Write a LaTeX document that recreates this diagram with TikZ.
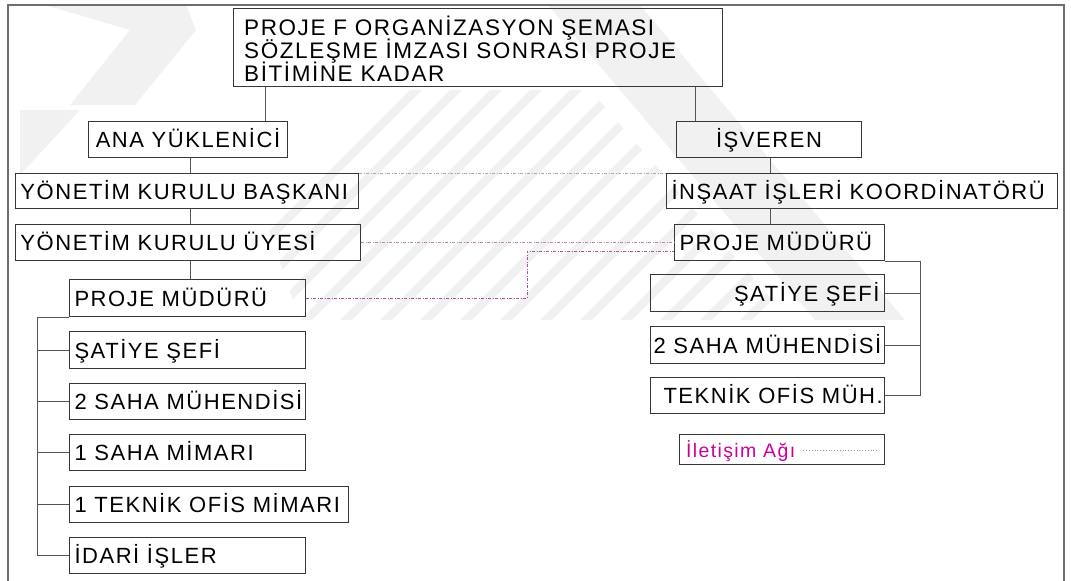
\documentclass[tikz,border=0pt]{standalone}
\usepackage{fontspec}
\setmainfont{Liberation Sans}[LetterSpace=7]
\definecolor{boxline}{RGB}{55,55,55}
\definecolor{linkline}{RGB}{85,85,85}
\definecolor{frameline}{RGB}{110,110,110}
\definecolor{netgray}{RGB}{170,165,185}
\definecolor{netmauve}{RGB}{180,140,175}
\definecolor{netpurple}{RGB}{170,80,160}
\definecolor{legendpink}{RGB}{204,0,153}
\definecolor{markgray}{RGB}{241,241,241}
% box contents: left, right or centred in a fixed width
\newcommand{\inleft}[3][5pt]{\hbox to #2{\hspace*{#1}#3\hss}}
\newcommand{\inright}[2]{\hbox to #1{\hss#2\hspace*{5pt}}}
\newcommand{\inmid}[2]{\hbox to #1{\hss#2\hss}}
\begin{document}
\begin{tikzpicture}[x=1pt,y=-1pt,
  box/.style={draw=boxline, line width=1pt, anchor=north west, inner sep=0pt,
    text height=16pt, text depth=0pt,
    font=\fontsize{22}{24}\selectfont},
  link/.style={draw=linkline, line width=0.9pt},
  net/.style={line width=0.9pt, dash pattern=on 3pt off 1.5pt on 1pt off 1.5pt},
  heading/.style={anchor=base west, inner sep=0pt, font=\fontsize{22.5}{24}\selectfont}]
\useasboundingbox (0,0) rectangle (1071,581);

% faint background mark: diagonal bands and hatching
\begin{scope}[markgray]
  \fill (45,5) -- (186,5) -- (196,30) -- (135,105) -- (70,105) -- (130,30) -- cycle;
  \fill (20,175) -- (20,110) -- (80,110) -- cycle;
  \fill (548,5) -- (640,5) -- (905,320) -- (815,320) -- cycle;
  \begin{scope}
    \clip (220,90) -- (590,90) -- (790,320) -- (300,320) -- cycle;
    \foreach \s in {0,...,14} {
      \fill ({170+40*\s},330) -- ({182+40*\s},330) -- ({422+40*\s},90) -- ({410+40*\s},90) -- cycle;
    }
  \end{scope}
\end{scope}

% outer frame (open at the bottom)
\draw[frameline, line width=1.2pt] (8,590) -- (8,5) -- (1064,5) -- (1064,590);

% title block
\node[box, minimum width=489pt, minimum height=78pt] (title) at (233,8) {};
\node[heading] (t1) at (244,35) {PROJE F ORGANİZASYON ŞEMASI};
\node[heading] (t2) at (244,58) {SÖZLEŞME İMZASI SONRASI PROJE};
\node[heading] (t3) at (244,81) {BİTİMİNE KADAR};

% contractor side
\node[box, minimum height=36pt] (ana) at (88,121) {\inmid{199pt}{ANA YÜKLENİCİ}};
\node[box, minimum height=35pt] (ykb) at (15,173) {\inleft{343pt}{YÖNETİM KURULU BAŞKANI}};
\node[box, minimum height=36pt] (yku) at (15,224) {\inleft{345pt}{YÖNETİM KURULU ÜYESİ}};
\node[box, minimum height=37pt] (pml) at (69,279) {\inleft{236pt}{PROJE MÜDÜRÜ}};
\node[box, minimum height=37pt] (l1) at (69,331) {\inleft{236pt}{ŞATİYE ŞEFİ}};
\node[box, minimum height=36pt] (l2) at (69,383) {\inleft{236pt}{2 SAHA MÜHENDİSİ}};
\node[box, minimum height=36pt] (l3) at (69,434) {\inleft{236pt}{1 SAHA MİMARI}};
\node[box, minimum height=36pt] (l4) at (69,486) {\inleft{279pt}{1 TEKNİK OFİS MİMARI}};
\node[box, minimum height=36pt] (l5) at (69,537) {\inleft{236pt}{İDARİ İŞLER}};

% employer side
\node[box, minimum height=36pt] (isv) at (676,121) {\inmid{185pt}{İŞVEREN}};
\node[box, minimum height=35pt] (ins) at (666,173) {\inleft{391pt}{İNŞAAT İŞLERİ KOORDİNATÖRÜ}};
\node[box, minimum height=36pt] (pmr) at (674,224) {\inleft{210pt}{PROJE MÜDÜRÜ}};
\node[box, minimum height=37pt] (r1) at (650,274) {\inright{234pt}{ŞATİYE ŞEFİ}};
\node[box, minimum height=37pt] (r2) at (650,326) {\inleft[3pt]{234pt}{2 SAHA MÜHENDİSİ}};
\node[box, minimum height=36pt] (r3) at (650,377) {\inleft[13pt]{234pt}{TEKNİK OFİS MÜH.}};

% legend
\node[box, minimum width=205pt, minimum height=30pt] (legend) at (679,434) {};
\node[anchor=base west, inner sep=0pt, text=legendpink, font=\fontsize{19.5}{22}\selectfont] (legtext) at (686,457) {İletişim Ağı};
\coordinate (legend end) at (878,450);
\draw[netmauve, line width=0.8pt, dotted] (legtext.east |- legend end) ++(8,0) -- (legend end);

% reporting lines
\coordinate (ca) at (265,0);
\coordinate (ce) at (695,0);
\coordinate (cl) at (190,0);
\coordinate (cr) at (770,0);
\draw[link] (title.south -| ca) -- (ana.north -| ca);
\draw[link] (title.south -| ce) -- (isv.north -| ce);
\draw[link] (ana.south -| cl) -- (ykb.north -| cl);
\draw[link] (ykb.south -| cl) -- (yku.north -| cl);
\draw[link] (yku.south -| cl) -- (pml.north -| cl);
\draw[link] (isv.south -| cr) -- (ins.north -| cr);
\draw[link] (ins.south -| cr) -- (pmr.north -| cr);

% left staff trunk
\coordinate (lt) at (37,0);
\draw[link] (pml.south west) -- (pml.south west -| lt) -- (l5.west -| lt) -- (l5.west);
\foreach \n in {l1,l2,l3,l4} \draw[link] (\n.west -| lt) -- (\n.west);

% right staff bracket
\coordinate (rt) at (920,0);
\draw[link] (pmr.south east) -- (pmr.south east -| rt) -- (r3.east -| rt) -- (r3.east);
\foreach \n in {r1,r2} \draw[link] (\n.east -| rt) -- (\n.east);

% communication network
\draw[net, netgray] (ykb.north east) -- (ins.north west);
\draw[net, netmauve] (yku.east) -- (yku.east -| pmr.west);
\coordinate (jog) at (527,251);
\draw[net, netpurple] (pml.east) -| (jog) -- (jog -| pmr.west);
\end{tikzpicture}
\end{document}
